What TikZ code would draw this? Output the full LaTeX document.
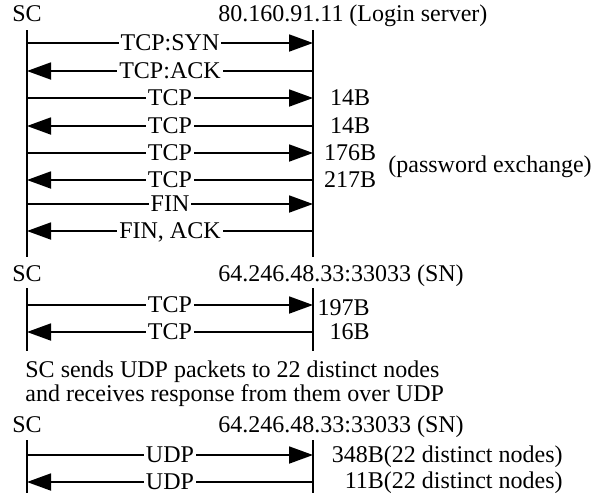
\documentclass[tikz,border=0pt]{standalone}
\usepackage{fontspec}
\setmainfont{Liberation Serif}
\usetikzlibrary{arrows.meta}

\begin{document}
\begin{tikzpicture}[%
x=0.5pt,y=-0.5pt,
lifeline/.style={line width=0.9pt},
msg/.style={line width=0.9pt,-{Triangle[length=12pt,width=8.5pt]}},
lbl/.style={fill=white,inner xsep=1pt,inner ysep=0pt,text height=7.9pt,text depth=0pt},
txt/.style={inner sep=0pt,text height=7.9pt,text depth=0pt},
]
\fontsize{12}{14}\selectfont
\useasboundingbox (0,0) rectangle (598,494);
%% login server;
\node[txt] (sca) at (27,14) {SC};
\node[txt,anchor=west] (srva) at (218,14) {80.160.91.11 (Login server)};
\coordinate (la0) at (27,30);
\coordinate (la9) at (27,257);
\coordinate (ra0) at (313,30);
\coordinate (ra9) at (313,257);
\draw[lifeline] (la0) -- (la9);
\draw[lifeline] (ra0) -- (ra9);
\coordinate (la1) at (27,43);  \coordinate (ra1) at (313,43);
\coordinate (la2) at (27,71);  \coordinate (ra2) at (313,71);
\coordinate (la3) at (27,98);  \coordinate (ra3) at (313,98);
\coordinate (la4) at (27,126); \coordinate (ra4) at (313,126);
\coordinate (la5) at (27,153); \coordinate (ra5) at (313,153);
\coordinate (la6) at (27,180); \coordinate (ra6) at (313,180);
\coordinate (la7) at (27,204); \coordinate (ra7) at (313,204);
\coordinate (la8) at (27,231); \coordinate (ra8) at (313,231);
\draw[msg] (la1) -- node[lbl] {TCP:SYN} (ra1);
\draw[msg] (ra2) -- node[lbl] {TCP:ACK} (la2);
\draw[msg] (la3) -- node[lbl] {TCP} (ra3);
\draw[msg] (ra4) -- node[lbl] {TCP} (la4);
\draw[msg] (la5) -- node[lbl] {TCP} (ra5);
\draw[msg] (ra6) -- node[lbl] {TCP} (la6);
\draw[msg] (la7) -- node[lbl] {FIN} (ra7);
\draw[msg] (ra8) -- node[lbl] {FIN, ACK} (la8);
%% sizes;
\node[txt] (sz3) at (350,98) {14B};
\node[txt] (sz4) at (350,126) {14B};
\node[txt] (sz5) at (350,153) {176B};
\node[txt] (sz6) at (350,180) {217B};
\node[txt,anchor=west] (pwd) at (388,165) {(password exchange)};
%% super node, tcp;
\node[txt] (scb) at (27,274) {SC};
\node[txt,anchor=west] (srvb) at (218,274) {64.246.48.33:33033 (SN)};
\coordinate (lb0) at (27,288);
\coordinate (lb9) at (27,351);
\coordinate (rb0) at (313,288);
\coordinate (rb9) at (313,351);
\draw[lifeline] (lb0) -- (lb9);
\draw[lifeline] (rb0) -- (rb9);
\coordinate (lb1) at (27,305); \coordinate (rb1) at (313,305);
\coordinate (lb2) at (27,332); \coordinate (rb2) at (313,332);
\draw[msg] (lb1) -- node[lbl] {TCP} (rb1);
\draw[msg] (rb2) -- node[lbl] {TCP} (lb2);
\node[txt,anchor=east] (szb1) at (370,308) {197B};
\node[txt,anchor=east] (szb2) at (370,332) {16B};
%% note;
\node[txt,anchor=west] (nt1) at (25,370) {SC sends UDP packets to 22 distinct nodes};
\node[txt,anchor=west] (nt2) at (25,394) {and receives response from them over UDP};
%% super node, udp;
\node[txt] (scc) at (27,425) {SC};
\node[txt,anchor=west] (srvc) at (218,425) {64.246.48.33:33033 (SN)};
\coordinate (lc0) at (27,440);
\coordinate (lc9) at (27,493);
\coordinate (rc0) at (313,440);
\coordinate (rc9) at (313,493);
\draw[lifeline] (lc0) -- (lc9);
\draw[lifeline] (rc0) -- (rc9);
\coordinate (lc1) at (27,455); \coordinate (rc1) at (313,455);
\coordinate (lc2) at (27,482); \coordinate (rc2) at (313,482);
\draw[msg] (lc1) -- node[lbl] {UDP} (rc1);
\draw[msg] (rc2) -- node[lbl] {UDP} (lc2);
\node[txt,anchor=east] (szc1) at (563,455) {348B(22 distinct nodes)};
\node[txt,anchor=east] (szc2) at (563,481) {11B(22 distinct nodes)};
\end{tikzpicture}
\end{document}
